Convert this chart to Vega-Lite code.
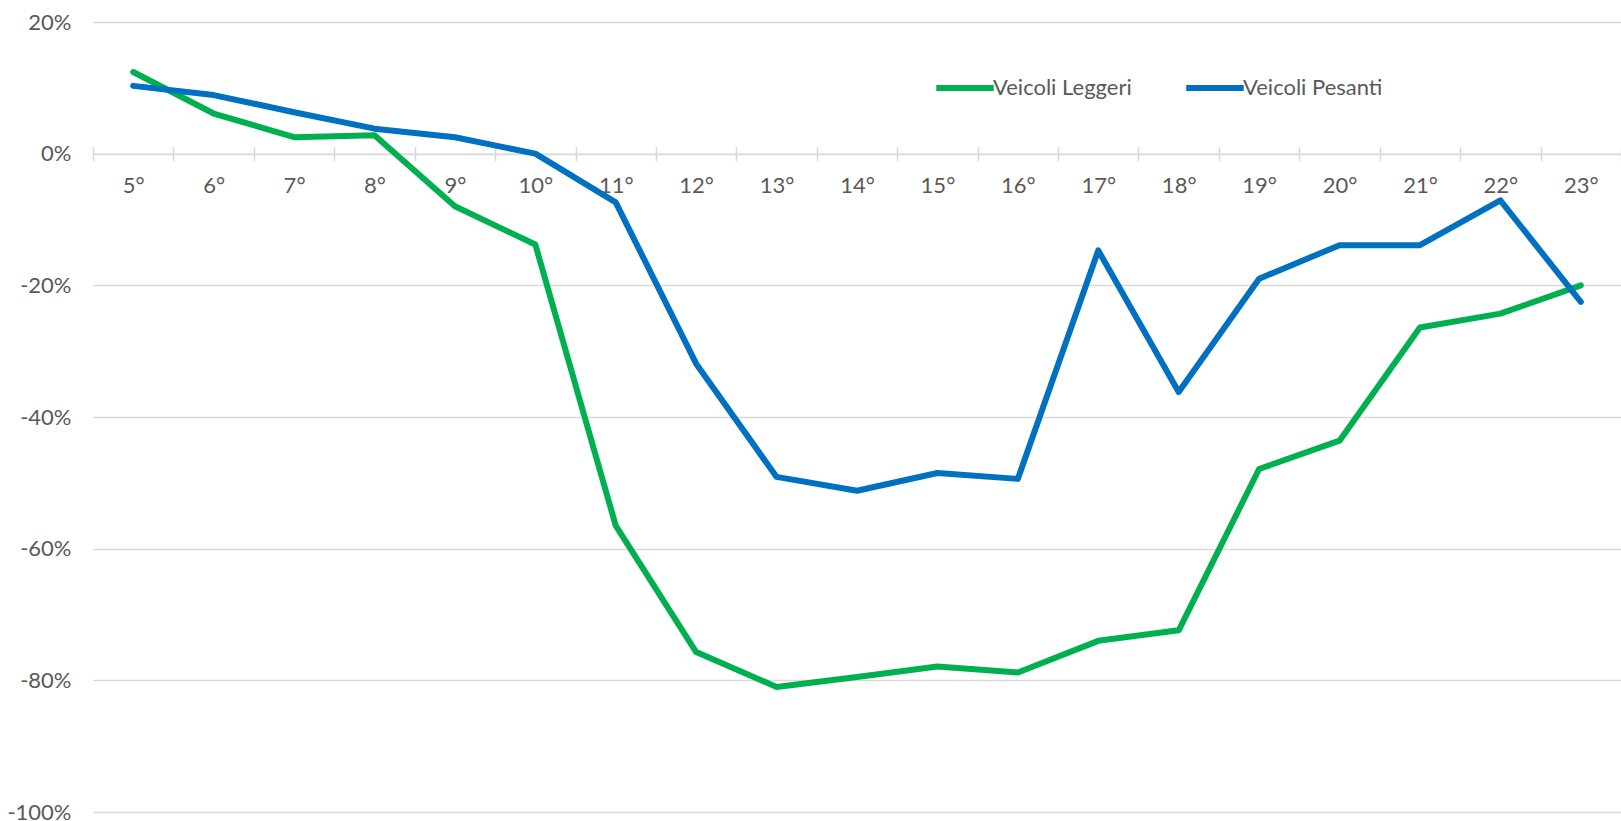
{
  "$schema": "https://vega.github.io/schema/vega-lite/v6.json",
  "width": 1528,
  "height": 790,
  "autosize": {"type": "none"},
  "padding": {"left": 93, "top": 22, "right": 0, "bottom": 9},
  "background": "white",
  "config": {"view": {"stroke": null}},
  "data": {
    "values": [
      {"ora": "5°", "serie": "Veicoli Leggeri", "valore": 12.4},
      {"ora": "6°", "serie": "Veicoli Leggeri", "valore": 6.1},
      {"ora": "7°", "serie": "Veicoli Leggeri", "valore": 2.5},
      {"ora": "8°", "serie": "Veicoli Leggeri", "valore": 2.8},
      {"ora": "9°", "serie": "Veicoli Leggeri", "valore": -8.0},
      {"ora": "10°", "serie": "Veicoli Leggeri", "valore": -13.8},
      {"ora": "11°", "serie": "Veicoli Leggeri", "valore": -56.5},
      {"ora": "12°", "serie": "Veicoli Leggeri", "valore": -75.7},
      {"ora": "13°", "serie": "Veicoli Leggeri", "valore": -81.0},
      {"ora": "14°", "serie": "Veicoli Leggeri", "valore": -79.5},
      {"ora": "15°", "serie": "Veicoli Leggeri", "valore": -77.9},
      {"ora": "16°", "serie": "Veicoli Leggeri", "valore": -78.8},
      {"ora": "17°", "serie": "Veicoli Leggeri", "valore": -74.0},
      {"ora": "18°", "serie": "Veicoli Leggeri", "valore": -72.4},
      {"ora": "19°", "serie": "Veicoli Leggeri", "valore": -47.9},
      {"ora": "20°", "serie": "Veicoli Leggeri", "valore": -43.6},
      {"ora": "21°", "serie": "Veicoli Leggeri", "valore": -26.4},
      {"ora": "22°", "serie": "Veicoli Leggeri", "valore": -24.3},
      {"ora": "23°", "serie": "Veicoli Leggeri", "valore": -20.0},
      {"ora": "5°", "serie": "Veicoli Pesanti", "valore": 10.3},
      {"ora": "6°", "serie": "Veicoli Pesanti", "valore": 8.9},
      {"ora": "7°", "serie": "Veicoli Pesanti", "valore": 6.3},
      {"ora": "8°", "serie": "Veicoli Pesanti", "valore": 3.8},
      {"ora": "9°", "serie": "Veicoli Pesanti", "valore": 2.5},
      {"ora": "10°", "serie": "Veicoli Pesanti", "valore": 0.0},
      {"ora": "11°", "serie": "Veicoli Pesanti", "valore": -7.4},
      {"ora": "12°", "serie": "Veicoli Pesanti", "valore": -31.9},
      {"ora": "13°", "serie": "Veicoli Pesanti", "valore": -49.1},
      {"ora": "14°", "serie": "Veicoli Pesanti", "valore": -51.2},
      {"ora": "15°", "serie": "Veicoli Pesanti", "valore": -48.5},
      {"ora": "16°", "serie": "Veicoli Pesanti", "valore": -49.4},
      {"ora": "17°", "serie": "Veicoli Pesanti", "valore": -14.7},
      {"ora": "18°", "serie": "Veicoli Pesanti", "valore": -36.2},
      {"ora": "19°", "serie": "Veicoli Pesanti", "valore": -19.0},
      {"ora": "20°", "serie": "Veicoli Pesanti", "valore": -13.9},
      {"ora": "21°", "serie": "Veicoli Pesanti", "valore": -13.9},
      {"ora": "22°", "serie": "Veicoli Pesanti", "valore": -7.1},
      {"ora": "23°", "serie": "Veicoli Pesanti", "valore": -22.5}
    ]
  },
  "layer": [
    {
      "mark": {"type": "line", "strokeOpacity": 0},
      "encoding": {
        "x": {
          "field": "ora", "type": "ordinal", "sort": null, "bandPosition": 0.5,
          "scale": {"type": "band", "paddingInner": 0, "paddingOuter": 0},
          "axis": {
            "orient": "top", "offset": -131.67, "tickBand": "extent", "tickSize": 7,
            "tickColor": "#d9d9d9", "tickWidth": 1.5, "labels": false, "domain": false,
            "grid": false, "title": null
          }
        },
        "y": {
          "field": "valore", "type": "quantitative",
          "scale": {"domain": [-100, 20], "nice": false, "zero": false},
          "axis": {
            "values": [-100, -80, -60, -40, -20, 0, 20],
            "labelExpr": "datum.value + '%'",
            "domain": false, "ticks": false, "grid": true,
            "gridColor": "#d9d9d9", "gridWidth": 1.5,
            "labelPadding": 22, "labelFontSize": 22, "labelColor": "#595959",
            "labelFont": "Lato", "title": null
          }
        },
        "detail": {"field": "serie"}
      }
    },
    {
      "mark": {"type": "line", "strokeWidth": 6, "strokeJoin": "round", "strokeCap": "round"},
      "encoding": {
        "x": {
          "field": "ora", "type": "ordinal", "sort": null, "bandPosition": 0.5,
          "scale": {"type": "band", "paddingInner": 0, "paddingOuter": 0},
          "axis": {
            "orient": "bottom", "offset": -658.33, "tickBand": "extent", "tickSize": 7,
            "tickColor": "#d9d9d9", "tickWidth": 1.5, "domainColor": "#d9d9d9", "domainWidth": 1.5,
            "labelPadding": 15, "labelFontSize": 22, "labelAngle": 0, "labelColor": "#595959",
            "labelFont": "Lato", "grid": false, "title": null
          }
        },
        "y": {
          "field": "valore", "type": "quantitative",
          "scale": {"domain": [-100, 20], "nice": false, "zero": false},
          "axis": {
            "values": [-100, -80, -60, -40, -20, 0, 20],
            "labelExpr": "datum.value + '%'",
            "domain": false, "ticks": false, "grid": true,
            "gridColor": "#d9d9d9", "gridWidth": 1.5,
            "labelPadding": 22, "labelFontSize": 22, "labelColor": "#595959",
            "labelFont": "Lato", "title": null
          }
        },
        "color": {
          "field": "serie", "type": "nominal",
          "scale": {"domain": ["Veicoli Leggeri", "Veicoli Pesanti"], "range": ["#00b050", "#0070c0"]},
          "legend": {
            "orient": "none", "legendX": 840, "legendY": 34, "direction": "horizontal",
            "title": null, "symbolType": "stroke", "symbolSize": 3300, "symbolStrokeWidth": 6,
            "labelFontSize": 22, "labelFont": "Lato", "labelColor": "#595959",
            "columnPadding": 42, "labelOffset": -4, "padding": 0
          }
        }
      }
    }
  ],
  "resolve": {"axis": {"x": "independent"}}
}
